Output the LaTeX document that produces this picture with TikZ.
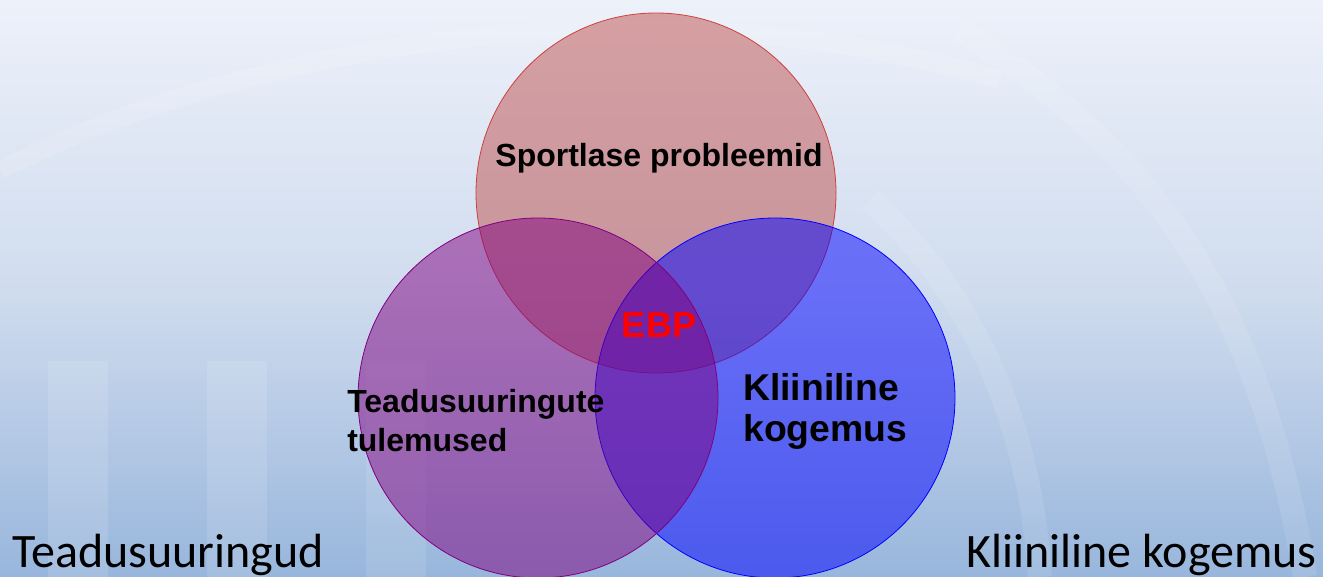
\documentclass[tikz,border=0pt]{standalone}
\usepackage{fontspec}
\setmainfont{Liberation Sans}
\newfontfamily\bodyfont{Carlito}
\usepackage{tikz}
\usetikzlibrary{positioning}
\definecolor{bgtop}{HTML}{EDF1FA}
\definecolor{bgmid}{HTML}{D0DCEE}
\definecolor{bgbot}{HTML}{98B6DC}
\definecolor{probc}{HTML}{C0504D}
\definecolor{resc}{HTML}{800080}
\definecolor{clinc}{HTML}{0000FF}

\tikzset{
  venn/.style={circle, inner sep=0pt, minimum size=270pt, fill opacity=0.5, line width=0.6pt},
  inlabel/.style={font=\bfseries, text=black, inner sep=0pt},
  outlabel/.style={font=\bodyfont\fontsize{36}{40}\selectfont, text=black, inner sep=0pt}
}

\begin{document}
\begin{tikzpicture}[x=0.75pt, y=-0.75pt]
  % background
  \useasboundingbox (0,0) rectangle (1323,577);
  \shade[top color=bgtop, bottom color=bgbot, middle color=bgmid] (0,0) rectangle (1323,577);
  % faint decoration behind
  \fill[white, opacity=0.12] (48,361) rectangle (108,577);
  \fill[white, opacity=0.12] (207,361) rectangle (267,577);
  \fill[white, opacity=0.1] (366,361) rectangle (426,577);
  \draw[white, opacity=0.12, line width=14pt] (0,170) .. controls (300,20) and (700,-10) .. (1000,80);
  \draw[white, opacity=0.1, line width=18pt] (960,30) .. controls (1150,150) and (1260,300) .. (1305,577);
  \draw[white, opacity=0.1, line width=18pt] (870,200) .. controls (980,300) and (1030,430) .. (1040,577);
  % circles
  \node[venn, fill=probc, draw=probc!80!red] (prob) at (656,193) {};
  \node[venn, fill=clinc, draw=clinc] (clin) at (775,398) {};
  \node[venn, fill=resc, draw=resc] (res) at (538,398) {};
  % labels inside
  \node[inlabel, font=\bfseries\fontsize{24}{28}\selectfont, anchor=base] (probtxt) at (659,167) {Sportlase probleemid};
  \node[inlabel, font=\bfseries\fontsize{24}{29}\selectfont, anchor=north west, align=left] (restxt) at (347,389) {Teadusuuringute\\tulemused};
  \node[inlabel, font=\bfseries\fontsize{28}{31}\selectfont, anchor=north west, align=left] (clintxt) at (743,373) {Kliiniline\\kogemus};
  \node[inlabel, font=\bfseries\fontsize{27}{31}\selectfont, text=red, anchor=base] (ebp) at (659,337) {EBP};
  % labels below
  \node[outlabel, anchor=base west] (resout) at (12,567) {Teadusuuringud};
  \node[outlabel, anchor=base east] (clinout) at (1317,567) {Kliiniline kogemus};
\end{tikzpicture}
\end{document}
